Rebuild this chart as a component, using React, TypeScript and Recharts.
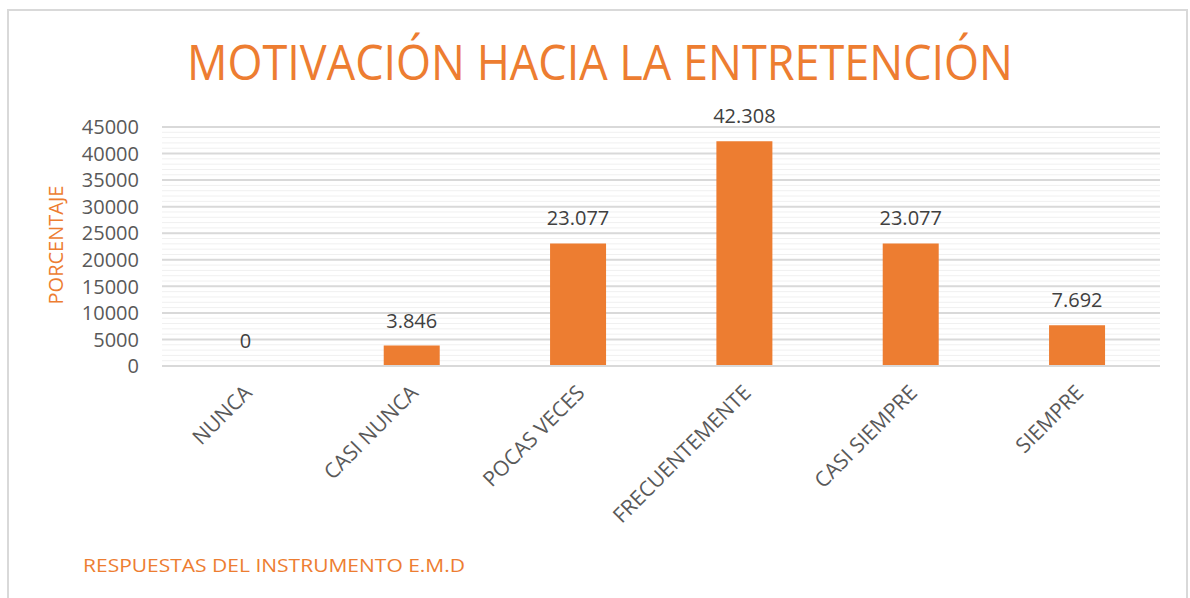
import React from 'react';
import { BarChart, Bar, XAxis, YAxis, CartesianGrid, LabelList } from 'recharts';

const categories = ['NUNCA', 'CASI NUNCA', 'POCAS VECES', 'FRECUENTEMENTE', 'CASI SIEMPRE', 'SIEMPRE'];
const values = [0, 3846, 23077, 42308, 23077, 7692];
const yTicks = [0, 5000, 10000, 15000, 20000, 25000, 30000, 35000, 40000, 45000];
const minorStep = 1000;

const title = 'MOTIVACIÓN HACIA LA ENTRETENCIÓN';
const yTitle = 'PORCENTAJE';
const xTitle = 'RESPUESTAS DEL INSTRUMENTO E.M.D';

const data = categories.map((c, i) => ({ name: c, value: values[i] }));
const minorTicks: number[] = [];
for (let v = 0; v <= 45000; v += minorStep) minorTicks.push(v);

const ORANGE = '#ED7D31';
const FONT = '"Open Sans", "Noto Sans", sans-serif';

const fmt = (v: number) => String(v).replace(/\B(?=(\d{3})+(?!\d))/g, '.');

const YTick = (props: any) => {
  const { y, payload } = props;
  return (
    <text x={139} y={y} dy="0.36em" textAnchor="end" fill="#595959" fontSize={20} fontFamily={FONT}>
      {payload.value}
    </text>
  );
};

const XTick = (props: any) => {
  const { x, y, payload } = props;
  return (
    <text
      transform={`translate(${x + 8},${y + 20}) rotate(-45)`}
      textAnchor="end"
      fill="#595959"
      fontSize={21}
      fontFamily={FONT}
    >
      {payload.value}
    </text>
  );
};

const DataLabel = (props: any) => {
  const { x, y, width, height, value } = props;
  const top = Math.min(y, y + (height || 0));
  return (
    <text x={x + width / 2} y={top - 18} textAnchor="middle" fill="#404040" fontSize={20} fontFamily={FONT}>
      {fmt(Number(value))}
    </text>
  );
};

export default function App() {
  return (
    <div style={{ position: 'absolute', left: 0, top: 0, width: 1190, height: 598, background: '#fff' }}>
      <div
        style={{
          position: 'absolute',
          left: 7,
          top: 9,
          width: 1181,
          height: 600,
          borderLeft: '2px solid #D9D9D9',
          borderTop: '2px solid #D9D9D9',
          borderRight: '2px solid #D9D9D9',
          boxSizing: 'border-box',
        }}
      />
      <div style={{ position: 'absolute', left: 0, top: 0 }}>
        <BarChart
          width={1190}
          height={598}
          data={data}
          margin={{ top: 127, right: 30, left: 0, bottom: 0 }}
          barCategoryGap="33.3%"
        >
          <CartesianGrid vertical={false} horizontalValues={minorTicks} stroke="#F0F0F0" strokeWidth={1} />
          <CartesianGrid vertical={false} horizontalValues={yTicks} stroke="#D9D9D9" strokeWidth={2} />
          <XAxis
            dataKey="name"
            height={232}
            interval={0}
            tickLine={false}
            axisLine={{ stroke: '#D9D9D9', strokeWidth: 2 }}
            tick={<XTick />}
          />
          <YAxis
            width={162}
            domain={[0, 45000]}
            ticks={yTicks}
            interval={0}
            axisLine={false}
            tickLine={false}
            tick={<YTick />}
          />
          <Bar dataKey="value" fill={ORANGE} minPointSize={0.01} isAnimationActive={false}>
            <LabelList dataKey="value" content={<DataLabel />} />
          </Bar>
        </BarChart>
      </div>
      <svg width={1190} height={598} style={{ position: 'absolute', left: 0, top: 0, pointerEvents: 'none' }}>
        <text
          x={187}
          y={80}
          textLength={826}
          lengthAdjust="spacingAndGlyphs"
          fill={ORANGE}
          fontSize={50}
          fontWeight={400}
          fontFamily={FONT}
        >
          {title}
        </text>
        <text
          transform="translate(63,245) rotate(-90)"
          textAnchor="middle"
          fill={ORANGE}
          fontSize={20}
          fontFamily={FONT}
        >
          {yTitle}
        </text>
        <text x={83} y={572} textLength={382} lengthAdjust="spacingAndGlyphs" fill={ORANGE} fontSize={19} fontFamily={FONT}>
          {xTitle}
        </text>
      </svg>
    </div>
  );
}
